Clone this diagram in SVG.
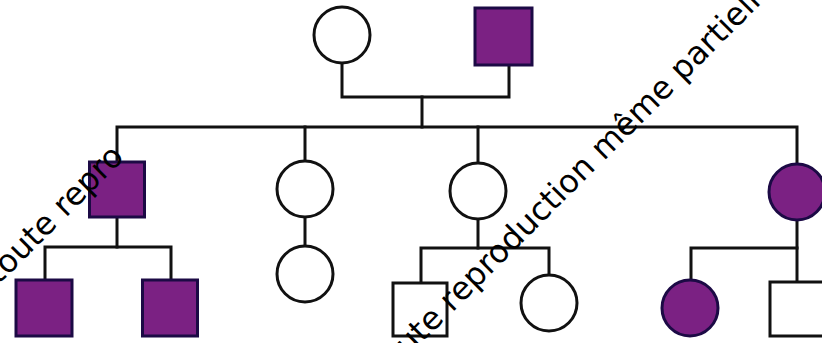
<svg xmlns="http://www.w3.org/2000/svg" width="822" height="343" viewBox="0 0 822 343">
<style>
.ln{fill:none;stroke:#111;stroke-width:3;stroke-linecap:square}
.un{fill:#fff;stroke:#111;stroke-width:3}
.af{fill:#7b2183;stroke:#1c0a45;stroke-width:3}
.wm{font-family:"DejaVu Sans",Verdana,sans-serif;font-size:32px;fill:#000}
</style>
<rect width="822" height="343" fill="#fff"/>
<g id="connectors">
<path class="ln" d="M342 63V97H509V65"/>
<path class="ln" d="M422 97V127"/>
<path class="ln" d="M117 162V127H797V164"/>
<path class="ln" d="M305 127V161"/>
<path class="ln" d="M478 127V163"/>
<path class="ln" d="M117 217V247"/>
<path class="ln" d="M45 280V247H171V280"/>
<path class="ln" d="M305 217V246"/>
<path class="ln" d="M478 219V248"/>
<path class="ln" d="M421 283V248H549V275"/>
<path class="ln" d="M797 220V282"/>
<path class="ln" d="M691 280V248H797"/>
</g>
<g id="gen1-mother"><circle class="un" cx="342" cy="35" r="28"/></g>
<g id="gen1-father"><rect class="af" x="475" y="8" width="57" height="57"/></g>
<g id="gen2-son"><rect class="af" x="89.5" y="162" width="55" height="55"/></g>
<g id="gen2-daughter1"><circle class="un" cx="305" cy="189" r="28"/></g>
<g id="gen2-daughter2"><circle class="un" cx="478" cy="191" r="28"/></g>
<g id="gen2-daughter3"><circle class="af" cx="797" cy="192" r="28"/></g>
<g id="gen3-son1"><rect class="af" x="16" y="280" width="56" height="56"/></g>
<g id="gen3-son2"><rect class="af" x="142.5" y="280" width="55" height="56"/></g>
<g id="gen3-daughter1"><circle class="un" cx="305" cy="274" r="28"/></g>
<g id="gen3-son3"><rect class="un" x="393" y="283" width="54" height="53"/></g>
<g id="gen3-daughter2"><circle class="un" cx="549" cy="303" r="28"/></g>
<g id="gen3-daughter3"><circle class="af" cx="690" cy="308" r="28"/></g>
<g id="gen3-son4"><rect class="un" x="770" y="282" width="56" height="54"/></g>
<g id="watermark">
<text class="wm" transform="translate(-1.4 285) rotate(-45)">toute repro</text>
<text class="wm" transform="translate(408 357) rotate(-45)">ute reproduction même partielle</text>
</g>
</svg>
